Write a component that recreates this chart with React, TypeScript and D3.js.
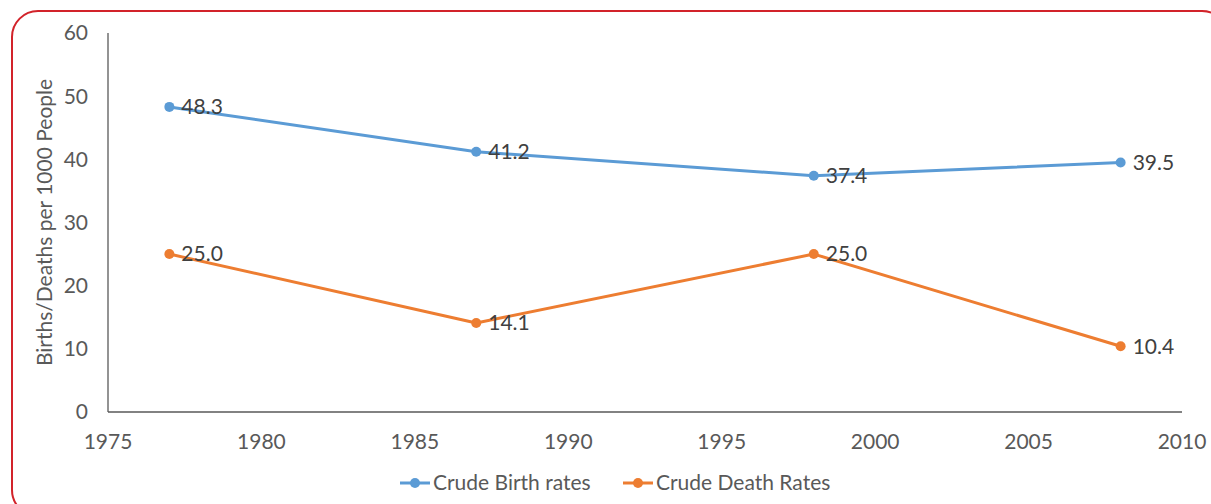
import React from "react";
import * as d3 from "d3";

const years = [1977, 1987, 1998, 2008];
const birthRates = [48.3, 41.2, 37.4, 39.5];
const deathRates = [25.0, 14.1, 25.0, 10.4];
const xTicks = [1975, 1980, 1985, 1990, 1995, 2000, 2005, 2010];
const yTicks = [0, 10, 20, 30, 40, 50, 60];
const seriesNames = ["Crude Birth rates", "Crude Death Rates"];
const colors = ["#5B9BD5", "#ED7D31"];

const W = 1211;
const H = 504;
const FONT = "Lato, 'Open Sans', sans-serif";
const FS = 21;

export default function App() {
  const x = d3.scaleLinear().domain([1975, 2010]).range([108, 1182]);
  const y = d3.scaleLinear().domain([0, 60]).range([412, 33]);
  const line = d3
    .line<[number, number]>()
    .x((d) => x(d[0]))
    .y((d) => y(d[1]));
  const series = [birthRates, deathRates];

  return (
    <svg
      width={W}
      height={H}
      style={{ position: "absolute", left: 0, top: 0, background: "#fff" }}
      fontFamily={FONT}
    >
      <rect x={12} y={11} width={1216} height={505} rx={26} ry={26} fill="none" stroke="#D2232A" strokeWidth={2} />
      <line x1={x(1975)} x2={x(1975)} y1={y(60)} y2={y(0)} stroke="#595959" strokeWidth={1.3} />
      <line x1={x(1975)} x2={x(2010)} y1={y(0)} y2={y(0)} stroke="#595959" strokeWidth={1.3} />
      {yTicks.map((t) => (
        <text key={"y" + t} x={88} y={y(t)} dy="0.35em" textAnchor="end" fontSize={FS} fill="#595959">
          {t}
        </text>
      ))}
      {xTicks.map((t) => (
        <text key={"x" + t} x={x(t)} y={449} textAnchor="middle" fontSize={FS} fill="#595959">
          {t}
        </text>
      ))}
      <text
        transform={`translate(52,${y(30)}) rotate(-90)`}
        textAnchor="middle"
        fontSize={FS}
        fill="#595959"
      >
        Births/Deaths per 1000 People
      </text>
      {series.map((vals, si) => {
        const pts = years.map((yr, i) => [yr, vals[i]] as [number, number]);
        return (
          <g key={si}>
            <path d={line(pts) || ""} fill="none" stroke={colors[si]} strokeWidth={3} strokeLinejoin="round" />
            {pts.map((p, i) => (
              <circle key={i} cx={x(p[0])} cy={y(p[1])} r={5} fill={colors[si]} />
            ))}
            {pts.map((p, i) => (
              <text key={"l" + i} x={x(p[0]) + 12} y={y(p[1])} dy="0.35em" fontSize={FS} fill="#404040">
                {p[1].toFixed(1)}
              </text>
            ))}
          </g>
        );
      })}
      {seriesNames.map((name, i) => {
        const lx = i === 0 ? 400 : 623;
        return (
          <g key={name}>
            <line x1={lx} x2={lx + 30} y1={483} y2={483} stroke={colors[i]} strokeWidth={3} />
            <circle cx={lx + 15} cy={483} r={5} fill={colors[i]} />
            <text x={lx + 33} y={483} dy="0.35em" fontSize={FS} fill="#595959">
              {name}
            </text>
          </g>
        );
      })}
    </svg>
  );
}
